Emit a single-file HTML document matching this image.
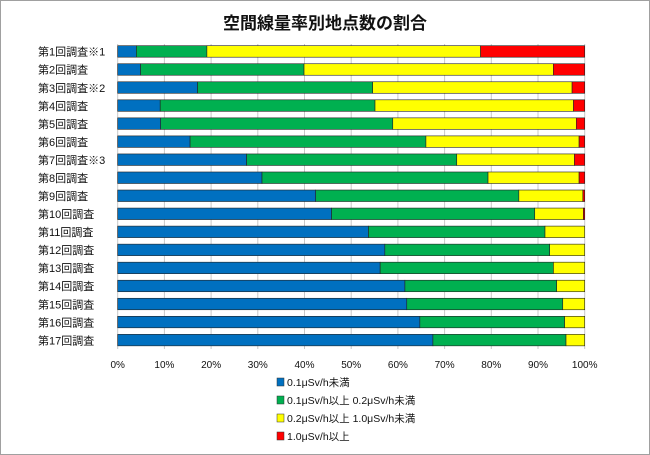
<!DOCTYPE html><html><head><meta charset="utf-8"><style>
body{margin:0;background:#fff}
svg{display:block}
text{font-family:"Liberation Sans","Noto Sans CJK JP",sans-serif}
</style></head><body>
<svg width="650" height="455" xmlns="http://www.w3.org/2000/svg">
<rect x="0.5" y="0.5" width="649" height="454" fill="#fff" stroke="#a0a0a0"/>
<text x="325" y="29" font-size="17" font-weight="bold" text-anchor="middle" fill="#111">空間線量率別地点数の割合</text>
<g id="grid" stroke="#c8c8c8" stroke-width="1"></g>
<g id="bars"></g>
<g id="labels" font-size="11" fill="#111"></g>
<g font-size="10" fill="#111" text-anchor="middle" id="ticks"></g>
<g font-size="10.5" fill="#111">
<rect x="277" y="378" width="7" height="8" fill="#0070C0" stroke="#333" stroke-width="0.5"/><text x="287" y="386">0.1μSv/h未満</text>
<rect x="277" y="396" width="7" height="8" fill="#00B050" stroke="#333" stroke-width="0.5"/><text x="287" y="404">0.1μSv/h以上 0.2μSv/h未満</text>
<rect x="277" y="414" width="7" height="8" fill="#FFFF00" stroke="#333" stroke-width="0.5"/><text x="287" y="422">0.2μSv/h以上 1.0μSv/h未満</text>
<rect x="277" y="432" width="7" height="8" fill="#FF0000" stroke="#333" stroke-width="0.5"/><text x="287" y="440">1.0μSv/h以上</text>
</g>
</svg>
<script>
const ns="http://www.w3.org/2000/svg";
const x0=117.7,W=467;
const data=[[4.0,19.1,77.7],[4.9,39.9,93.3],[17.1,54.6,97.3],[9.1,55.1,97.6],[9.2,58.9,98.2],[15.5,66.0,98.8],[27.6,72.6,97.8],[30.9,79.3,98.8],[42.4,85.9,99.6],[45.8,89.3,99.7],[53.7,91.5,100],[57.2,92.5,100],[56.2,93.3,100],[61.5,94.0,100],[61.9,95.3,100],[64.7,95.7,100],[67.5,96.0,100]];
const names=["第1回調査※1","第2回調査","第3回調査※2","第4回調査","第5回調査","第6回調査","第7回調査※3","第8回調査","第9回調査","第10回調査","第11回調査","第12回調査","第13回調査","第14回調査","第15回調査","第16回調査","第17回調査"];
const cols=["#0070C0","#00B050","#FFFF00","#FF0000"];
function el(t,a,p){const e=document.createElementNS(ns,t);for(const k in a)e.setAttribute(k,a[k]);document.getElementById(p).appendChild(e);return e;}
for(let i=0;i<=10;i++){const x=x0+W*i/10;el("line",{x1:x,x2:x,y1:44,y2:349},"grid");const t=el("text",{x:x,y:368},"ticks");t.textContent=i*10+"%";}
data.forEach((d,i)=>{const y=45.7+18.04*i,h=11.5;const b=[0,d[0],d[1],d[2],100];
for(let k=0;k<4;k++){const w=(b[k+1]-b[k])*W/100;if(w<=0)continue;el("rect",{x:x0+b[k]*W/100,y:y,width:w,height:h,fill:cols[k],stroke:"#222","stroke-width":0.6},"bars");}
const t=el("text",{x:38,y:y+10},"labels");t.textContent=names[i];});
</script>
</body></html>
